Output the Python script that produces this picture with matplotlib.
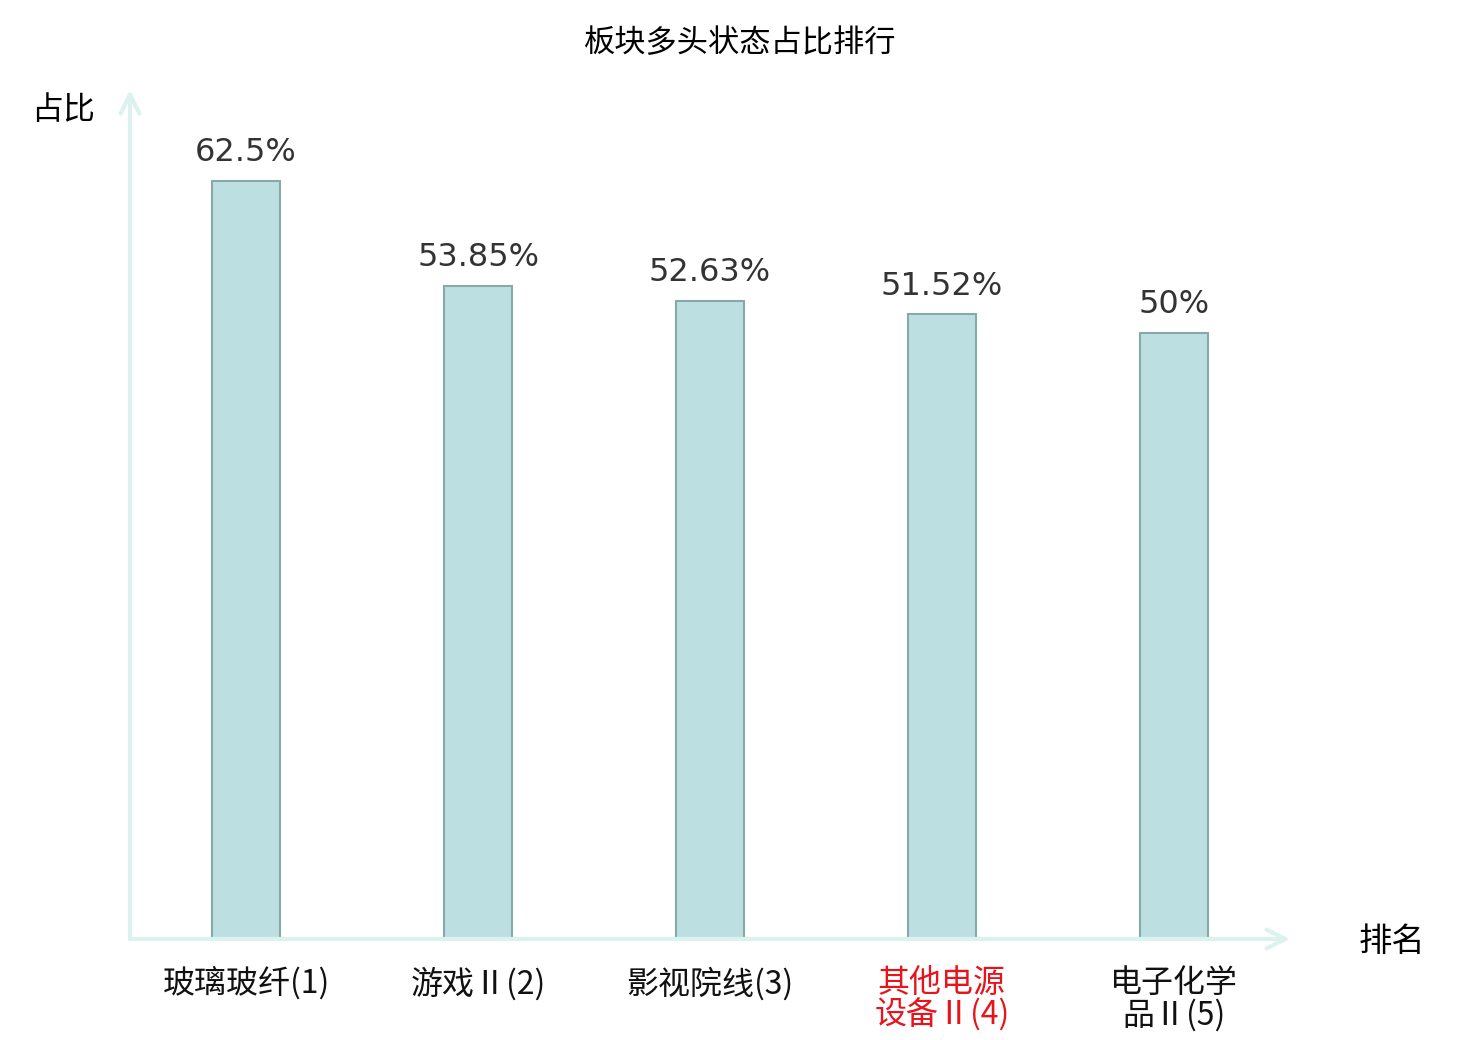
import matplotlib.pyplot as plt

plt.rcParams['font.family'] = ['Noto Sans CJK SC', 'DejaVu Sans']

# data
categories = ['玻璃玻纤(1)', '游戏Ⅱ(2)', '影视院线(3)', '其他电源\n设备Ⅱ(4)', '电子化学\n品Ⅱ(5)']
values = [62.5, 53.85, 52.63, 51.52, 50.0]
value_labels = ['62.5%', '53.85%', '52.63%', '51.52%', '50%']
label_colors = ['#111111', '#111111', '#111111', '#e8131b', '#111111']

fig = plt.figure(figsize=(14.8, 10.4), dpi=100)
ax = fig.add_axes([130 / 1480, 101 / 1040, 1160 / 1480, 849 / 1040])
x = list(range(len(categories)))
bars = ax.bar(x, values, width=0.293, color='#bce0e2', edgecolor='#8aa8a8', linewidth=1.5)

for xi, v, lab in zip(x, values, value_labels):
    ax.annotate(lab, (xi, v), xytext=(0, 9), textcoords='offset points',
                ha='center', va='bottom', fontsize=23, color='#333333',
                family='DejaVu Sans')

ax.set_xlim(-0.5, 4.5)
ax.set_ylim(0, 70)
for s in ax.spines.values():
    s.set_visible(False)
ax.set_yticks([])
ax.set_xticks(x)
ax.set_xticklabels(categories, fontsize=23, linespacing=1.0)
for t, c in zip(ax.get_xticklabels(), label_colors):
    t.set_color(c)
ax.tick_params(axis='x', length=0, pad=20)

# axis arrows
arrow_col = '#dcf2ef'
for tip in [(1, 0), (0, 1)]:
    ax.annotate('', xy=tip, xytext=(0, 0), xycoords='axes fraction',
                arrowprops=dict(arrowstyle='->', color=arrow_col, lw=3,
                                mutation_scale=34, shrinkA=0, shrinkB=0))

fig.text(63 / 1480, 1 - 110 / 1040, '占比', fontsize=23, ha='center', va='center')
fig.text(1392 / 1480, 1 - 941 / 1040, '排名', fontsize=24, ha='center', va='center')
fig.text(740 / 1480, 1 - 43 / 1040, '板块多头状态占比排行', fontsize=22.5, ha='center', va='center')

fig.savefig('out.png', dpi=100)
